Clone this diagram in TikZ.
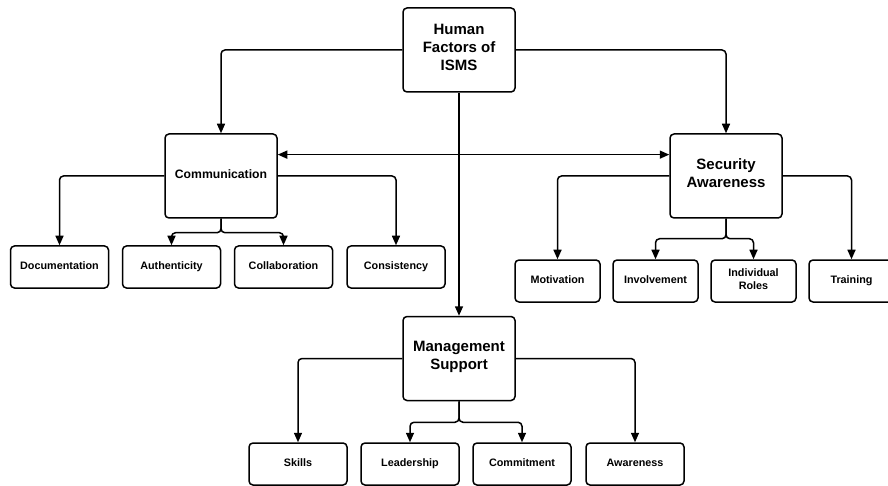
\documentclass[tikz,border=0pt]{standalone}
\usepackage{fontspec}
\setmainfont{Liberation Sans}
\usetikzlibrary{arrows.meta,calc}
\begin{document}
\begin{tikzpicture}[x=1pt,y=-1pt,
  box/.style={draw, line width=1.5pt, rounded corners=4pt, align=center, inner sep=0pt, fill=white,
    execute at begin node=\strut, execute at end node=\strut},
  bigbox/.style={box, minimum width=112pt, minimum height=84pt, font=\bfseries\fontsize{15}{18}\selectfont},
  leafw/.style={box, minimum width=98pt, minimum height=42pt, font=\bfseries\fontsize{10.8}{13}\selectfont},
  leafn/.style={box, minimum width=85pt, minimum height=42pt, font=\bfseries\fontsize{10.8}{13}\selectfont},
  tip/.tip={Triangle[length=9.5pt,width=8pt]},
  conn/.style={line width=1.5pt, rounded corners=4pt, -tip},
  dconn/.style={line width=1.5pt, tip-tip},
]
\useasboundingbox (0,0) rectangle (888,486);
% main nodes
\node[bigbox] (hf) at (459,50) {Human\\Factors of\\ISMS};
\node[bigbox, font=\bfseries\fontsize{12.2}{15}\selectfont] (com) at (221,176) {Communication};
\node[bigbox] (sa) at (726,176) {Security\\Awareness};
\node[bigbox] (ms) at (459,358.5) {Management\\Support};
% communication leaves
\node[leafw] (doc) at (59.5,267) {Documentation};
\node[leafw] (aut) at (171.5,267) {Authenticity};
\node[leafw] (col) at (283.5,267) {Collaboration};
\node[leafw] (cons) at (396,267) {Consistency};
% security awareness leaves
\node[leafn] (mot) at (557.5,281) {Motivation};
\node[leafn] (inv) at (655.5,281) {Involvement};
\node[leafn] (ind) at (753.5,281) {Individual\\Roles};
\node[leafn] (tra) at (851.5,281) {Training};
% management leaves
\node[leafw] (ski) at (298,464) {Skills};
\node[leafw] (lea) at (410,464) {Leadership};
\node[leafw] (comm) at (522,464) {Commitment};
\node[leafw] (awa) at (635,464) {Awareness};
% coordinates
\coordinate (cj) at ($(com.south)+(0,14)$);
\coordinate (sj) at ($(sa.south)+(0,20)$);
\coordinate (mj) at ($(ms.south)+(0,21)$);
% top connectors
\draw[conn] (hf.west) -| (com.north);
\draw[conn] (hf.east) -| (sa.north);
\draw[conn] (hf.south) -- (ms.north);
\draw[dconn] ($(com.north east)!0.25!(com.south east)$) -- ($(sa.north west)!0.25!(sa.south west)$);
% communication
\draw[conn] (com.west) -| (doc.north);
\draw[conn] (com.east) -| (cons.north);
\draw[conn] (com.south) -- (cj) -| (aut.north);
\draw[conn] (com.south) -- (cj) -| (col.north);
% security awareness
\draw[conn] (sa.west) -| (mot.north);
\draw[conn] (sa.east) -| (tra.north);
\draw[conn] (sa.south) -- (sj) -| (inv.north);
\draw[conn] (sa.south) -- (sj) -| (ind.north);
% management
\draw[conn] (ms.west) -| (ski.north);
\draw[conn] (ms.east) -| (awa.north);
\draw[conn] (ms.south) -- (mj) -| (lea.north);
\draw[conn] (ms.south) -- (mj) -| (comm.north);
\end{tikzpicture}
\end{document}
